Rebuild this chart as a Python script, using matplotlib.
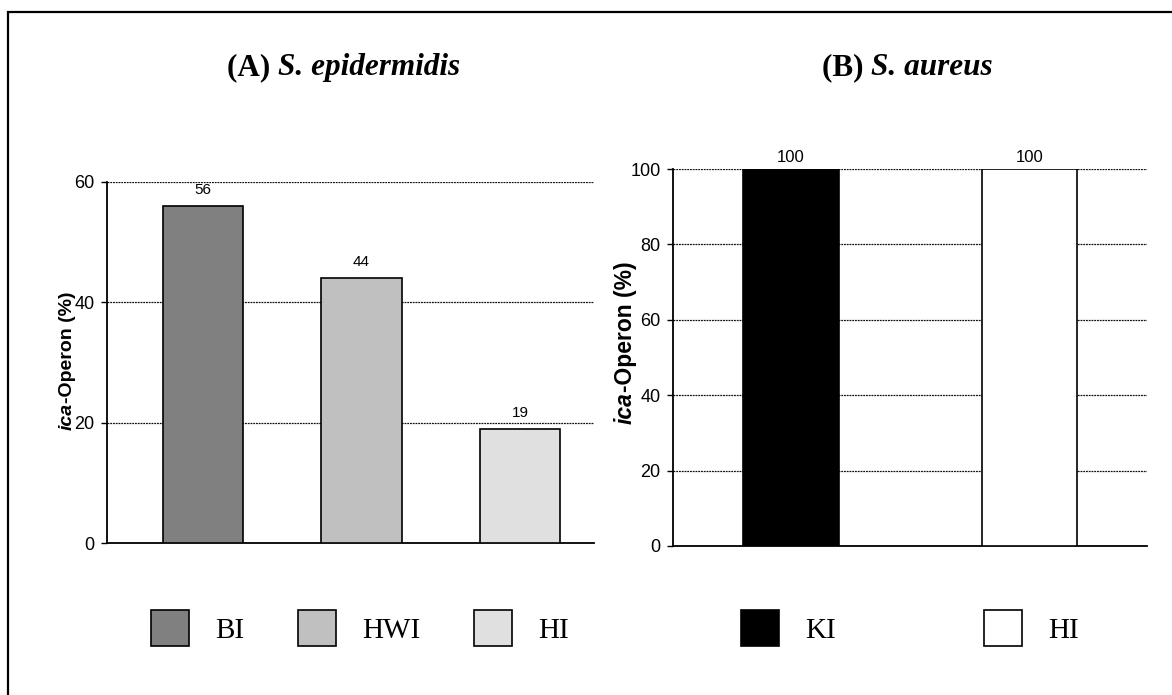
import matplotlib
matplotlib.use("Agg")
import matplotlib.pyplot as plt
from matplotlib.patches import Rectangle
from matplotlib.transforms import IdentityTransform

# ---- data -------------------------------------------------------------
epi_groups = ["BI", "HWI", "HI"]
epi_values = [56, 44, 19]
epi_colors = ["#808080", "#c0c0c0", "#e0e0e0"]
epi_yticks = [0, 20, 40, 60]

aur_groups = ["KI", "HI"]
aur_values = [100, 100]
aur_colors = ["#000000", "#ffffff"]
aur_yticks = [0, 20, 40, 60, 80, 100]

W, H = 1172, 695
fig = plt.figure(figsize=(W / 100, H / 100), dpi=100)
fig.patch.set_facecolor("white")

SANS = "Liberation Sans"
SERIF = "Liberation Serif"


def fig_box(left, top, right, bottom):
    """Axes rectangle from pixel edges (origin top-left)."""
    return [left / W, 1 - bottom / H, (right - left) / W, (bottom - top) / H]


def style_axes(ax, yticks, ylim):
    ax.set_ylim(*ylim)
    ax.set_yticks(yticks)
    ax.set_xticks([])
    for side in ("top", "right"):
        ax.spines[side].set_visible(False)
    for side in ("left", "bottom"):
        ax.spines[side].set_linewidth(1.3)
    ax.tick_params(axis="y", direction="out", length=4, width=1.0, pad=5,
                   labelsize=13)
    for lab in ax.get_yticklabels():
        lab.set_fontfamily(SANS)
    ax.yaxis.grid(True, color="#111111", linewidth=0.9, linestyle=(0, (1.5, 0.7)))
    ax.set_axisbelow(True)


def bar_panel(ax, groups, values, colors, width, offset, fs):
    xs = list(range(len(groups)))
    bars = ax.bar(xs, values, width=width, color=colors, edgecolor="black",
                  linewidth=1.2, label=groups, zorder=3)
    for b, v in zip(bars, values):
        ax.annotate(f"{v}", (b.get_x() + b.get_width() / 2, v),
                    xytext=(0, offset), textcoords="offset points",
                    ha="center", va="bottom", fontsize=fs, fontfamily=SANS)
    return bars


# ---- panel A ----------------------------------------------------------
axA = fig.add_axes(fig_box(107, 182, 594, 543))
barsA = bar_panel(axA, epi_groups, epi_values, epi_colors, 0.505, 6.5, 11)
axA.set_xlim(-0.606, 2.467)
style_axes(axA, epi_yticks, (0, 60))

# ---- panel B ----------------------------------------------------------
axB = fig.add_axes(fig_box(673, 169, 1147, 546))
barsB = bar_panel(axB, aur_groups, aur_values, aur_colors, 0.40, 3, 12)
axB.set_xlim(-0.495, 1.493)
style_axes(axB, aur_yticks, (0, 100))

# ---- legends ----------------------------------------------------------
leg_font = {"family": SERIF, "size": 21}
legA = axA.legend(handles=list(barsA), labels=epi_groups, ncol=3, frameon=False,
                  prop=leg_font, handlelength=1.3, handleheight=1.55,
                  handletextpad=0.9, columnspacing=1.85,
                  loc="center", bbox_to_anchor=(360 / W, 1 - 628 / H),
                  bbox_transform=fig.transFigure, borderaxespad=0, borderpad=0)
legB = axB.legend(handles=list(barsB), labels=aur_groups, ncol=2, frameon=False,
                  prop=leg_font, handlelength=1.3, handleheight=1.55,
                  handletextpad=0.9, columnspacing=5.1,
                  loc="center", bbox_to_anchor=(910 / W, 1 - 628 / H),
                  bbox_transform=fig.transFigure, borderaxespad=0, borderpad=0)
for leg in (legA, legB):
    for h in leg.legend_handles:
        h.set_edgecolor("black")
        h.set_linewidth(1.2)

# ---- mixed-style text lines -------------------------------------------
renderer = fig.canvas.get_renderer()


def mixed_text(pieces, cx, cy, rotation=0):
    """Draw text pieces with different styles as one centred line.

    cx, cy are pixel coordinates (origin top-left); for horizontal text cy
    is the baseline, for vertical text cx is the baseline.
    """
    texts, lengths = [], []
    for s, kw in pieces:
        t = fig.text(0, 0, s, transform=IdentityTransform(), rotation=rotation,
                     rotation_mode="anchor", ha="left", va="baseline", **kw)
        bb = t.get_window_extent(renderer)
        texts.append(t)
        lengths.append(bb.width if rotation == 0 else bb.height)
    total = sum(lengths)
    pos = -total / 2
    for t, L in zip(texts, lengths):
        if rotation == 0:
            t.set_position((cx + pos, H - cy))
        else:
            t.set_position((cx, (H - cy) + pos))
        pos += L


title_fs = 22.5
mixed_text([("(A) ", dict(family=SERIF, weight="bold", size=title_fs)),
            ("S. epidermidis", dict(family=SERIF, weight="bold", style="italic",
                                    size=title_fs))], 344, 75)
mixed_text([("(B) ", dict(family=SERIF, weight="bold", size=title_fs)),
            ("S. aureus", dict(family=SERIF, weight="bold", style="italic",
                               size=title_fs))], 907, 75)

mixed_text([("ica", dict(family=SANS, weight="bold", style="italic", size=14)),
            ("-Operon (%)", dict(family=SANS, weight="bold", size=14))],
           72, 361, rotation=90)
mixed_text([("ica", dict(family=SANS, weight="bold", style="italic", size=16.5)),
            ("-Operon (%)", dict(family=SANS, weight="bold", size=16.5))],
           632, 343, rotation=90)

# ---- outer frame ------------------------------------------------------
fig.patches.append(Rectangle((8 / W, -0.1), 1.2, (1 - 12 / H) + 0.1,
                             transform=fig.transFigure, fill=False,
                             edgecolor="black", linewidth=1.6, zorder=10))

fig.savefig("out.png", dpi=100, facecolor="white")
